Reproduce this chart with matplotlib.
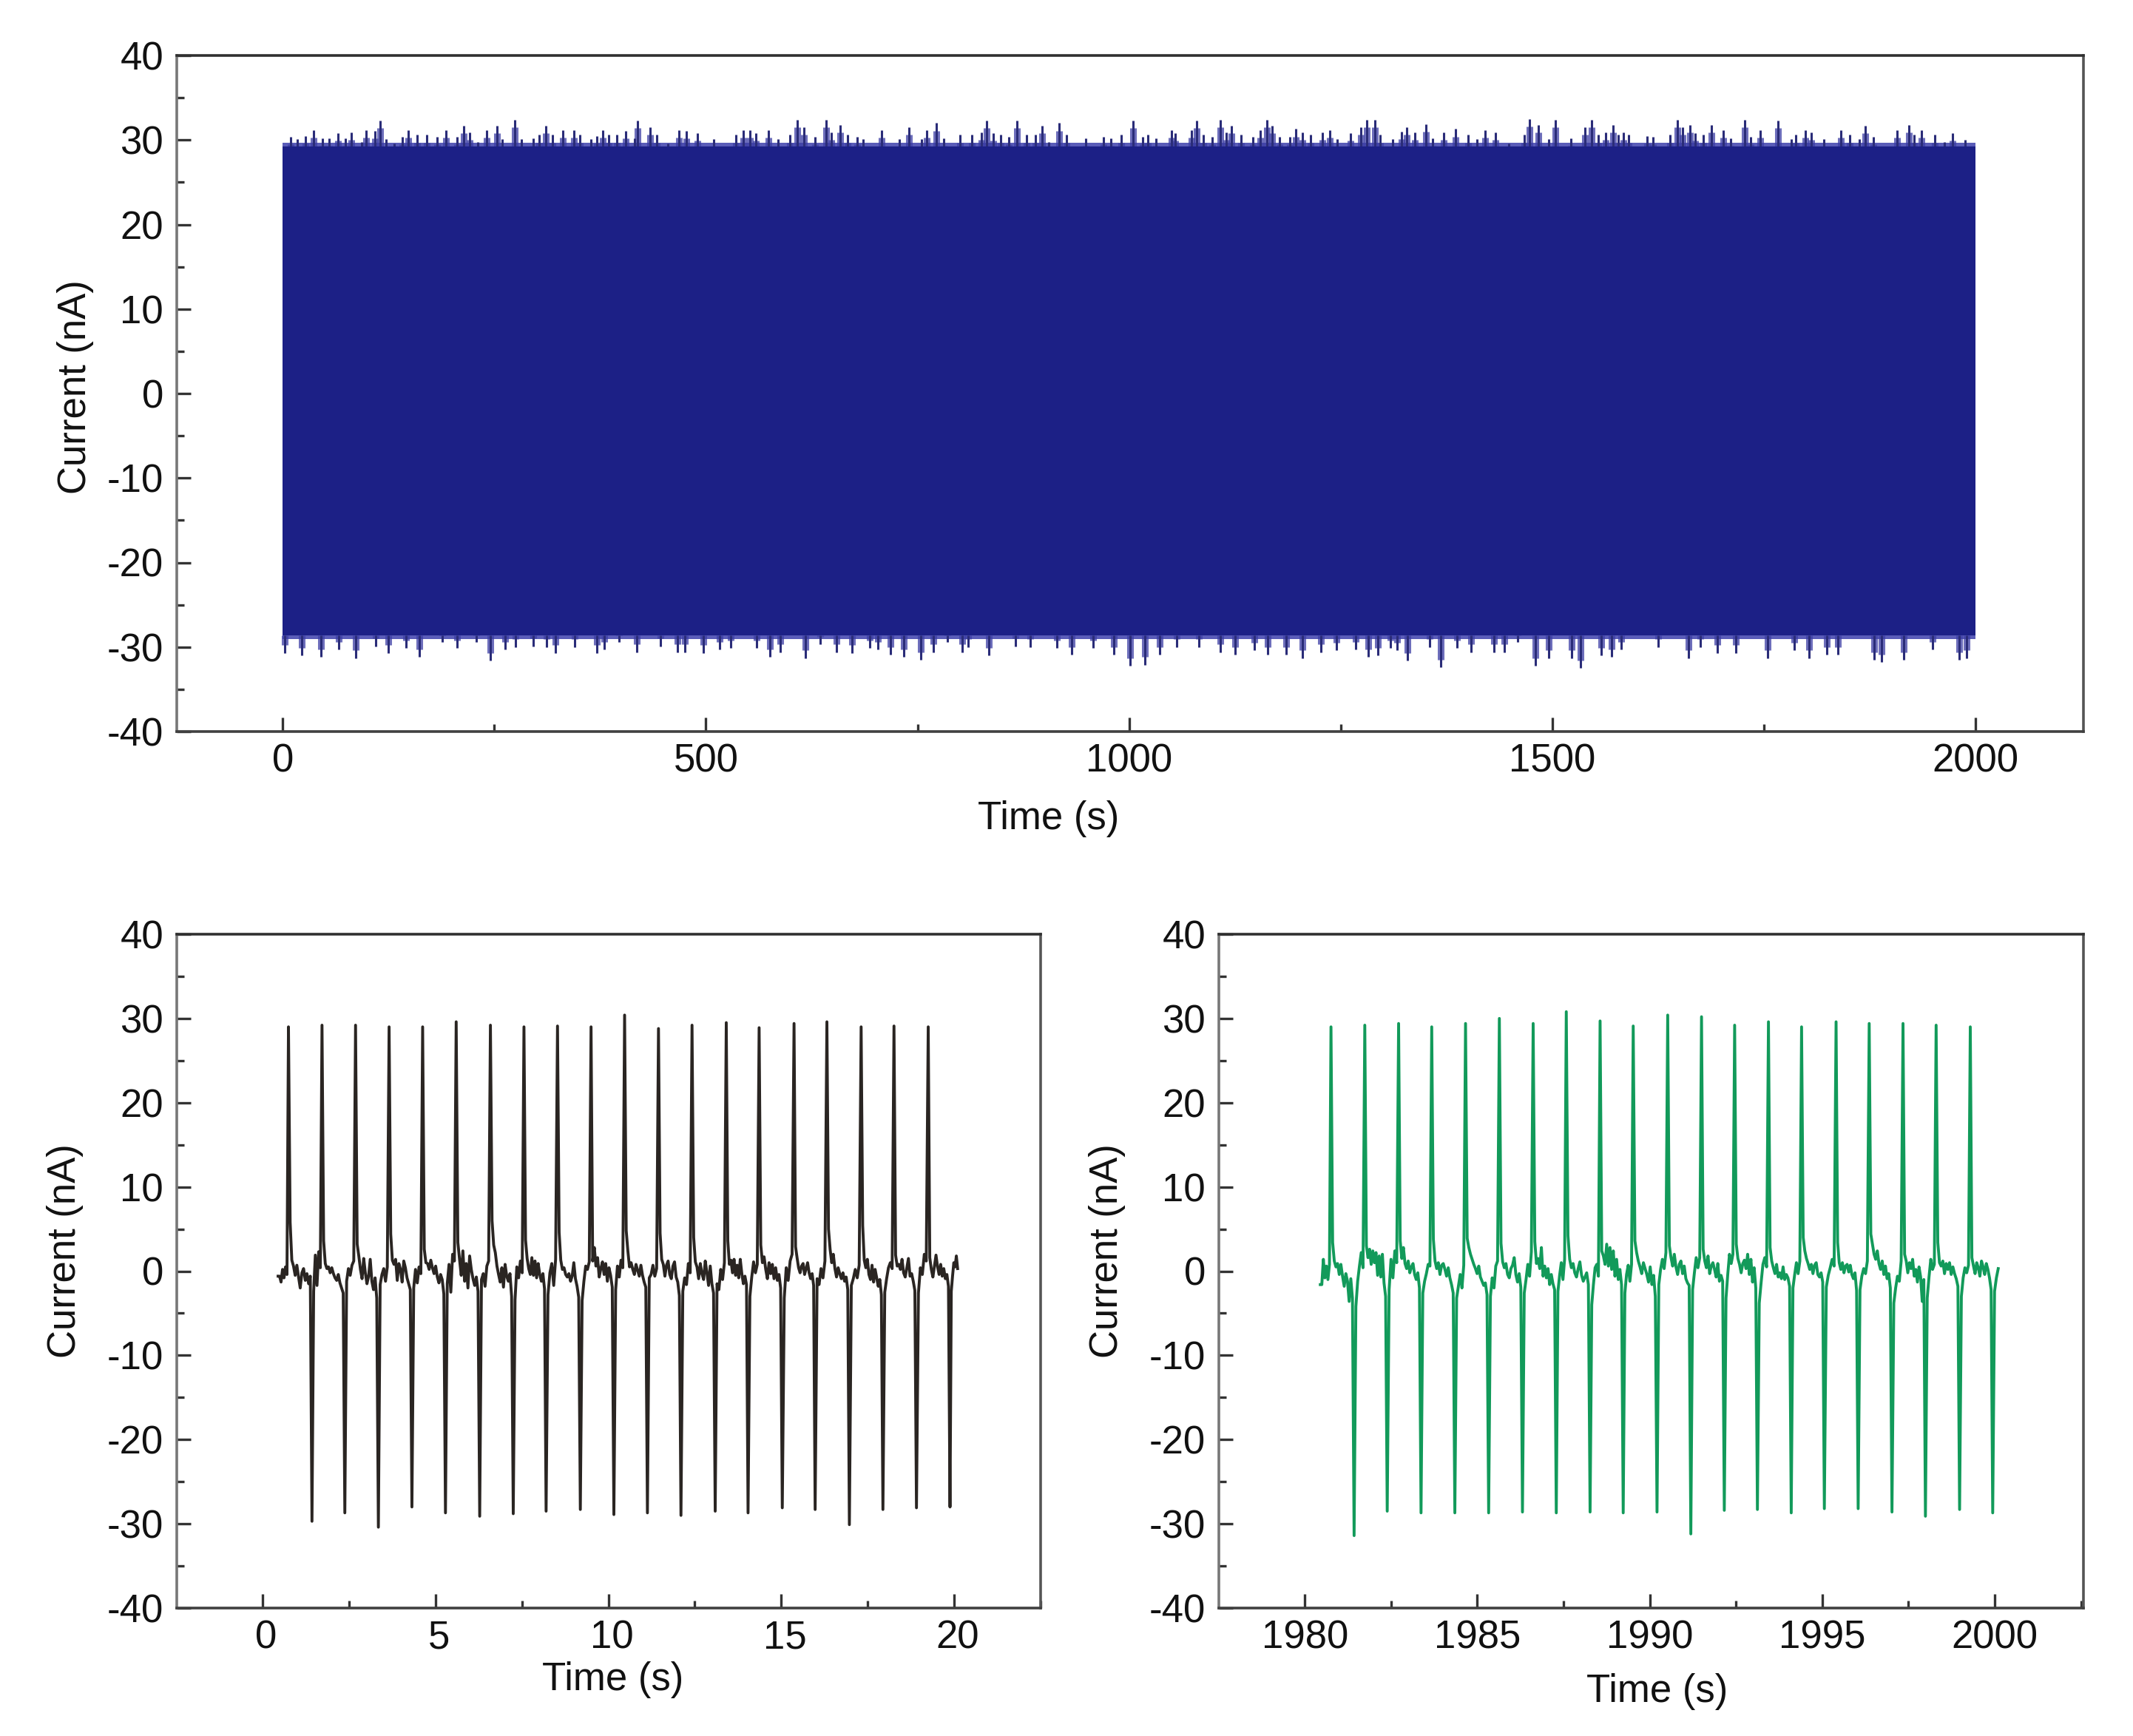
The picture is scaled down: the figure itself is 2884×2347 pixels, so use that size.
import numpy as np
from matplotlib import pyplot as plt
from matplotlib.ticker import AutoMinorLocator
from matplotlib.transforms import ScaledTranslation

plt.rcParams['font.family'] = ['Liberation Sans', 'DejaVu Sans']
plt.rcParams['axes.unicode_minus'] = False

# whole record: body of the band and the tips sticking out of it
band_t = [0, 2000]
band_hi = [29.2, 29.2]
band_lo = [-28.6, -28.6]
fuzz_hi = [29.7, 29.7]
fuzz_lo = [-29.1, -29.1]

tip_up_t = [9, 17, 27, 36, 47, 55, 65, 74, 81, 93, 98, 109, 115, 122, 132, 141, 148, 159, 170, 182,
            193, 206, 214, 221, 230, 241, 253, 259, 274, 282, 296, 303, 311, 319, 331, 344, 351, 364, 371, 378,
            385, 395, 405, 416, 419, 434, 442, 455, 468, 477, 490, 509, 535, 544, 552, 559, 574, 585, 599, 608,
            616, 629, 642, 648, 659, 667, 679, 686, 708, 729, 740, 755, 761, 772, 781, 800, 814, 826, 832, 840,
            848, 858, 868, 879, 889, 897, 905, 917, 926, 949, 970, 979, 991, 1005, 1016, 1022, 1032, 1050, 1055, 1074,
            1080, 1088, 1098, 1108, 1115, 1121, 1132, 1146, 1155, 1163, 1169, 1178, 1190, 1197, 1205, 1215, 1229, 1237, 1246, 1262,
            1274, 1281, 1291, 1297, 1312, 1322, 1328, 1338, 1351, 1359, 1372, 1386, 1401, 1411, 1421, 1433, 1449, 1467, 1473, 1484,
            1496, 1504, 1522, 1539, 1547, 1555, 1563, 1572, 1578, 1584, 1590, 1612, 1619, 1639, 1648, 1654, 1663, 1669, 1679, 1688,
            1702, 1711, 1728, 1735, 1746, 1767, 1783, 1788, 1799, 1806, 1821, 1841, 1852, 1863, 1870, 1880, 1908, 1922, 1928, 1937,
            1952, 1964, 1973, 1988]
tip_up_i = [30.4, 30.1, 30.5, 31.2, 30.2, 30.2, 30.8, 30.2, 30.9, 29.8, 31.2, 31.1, 32.3, 30.1, 29.6, 30.4, 31.2, 30.6, 30.6, 30.4,
            31.2, 30.4, 31.7, 30.9, 29.8, 31.2, 31.7, 30.1, 32.4, 30.1, 30.2, 30.6, 31.7, 30.6, 31.2, 31.2, 30.6, 30.1, 30.5, 31.2,
            30.6, 30.6, 31.1, 30.2, 32.3, 31.5, 30.6, 29.6, 31.2, 31.1, 30.8, 30.1, 30.6, 31.2, 31.2, 30.8, 31.2, 30.1, 30.6, 32.4,
            31.5, 30.4, 32.4, 30.9, 31.8, 30.6, 30.4, 30.1, 31.2, 30.1, 31.5, 30.1, 31.2, 32.0, 30.2, 30.6, 30.6, 30.9, 32.3, 30.8,
            30.6, 30.4, 32.3, 30.6, 30.6, 31.7, 29.8, 32.0, 30.6, 30.2, 30.4, 30.2, 30.6, 32.3, 30.4, 30.6, 30.2, 31.2, 30.8, 31.2,
            32.3, 30.6, 30.4, 32.4, 30.9, 31.7, 30.6, 30.4, 31.2, 32.4, 31.7, 30.4, 30.4, 31.3, 30.9, 30.6, 30.9, 31.2, 30.1, 30.8,
            31.5, 32.4, 32.4, 30.6, 30.1, 31.0, 31.5, 30.9, 31.9, 30.2, 30.9, 31.3, 30.6, 30.1, 31.2, 30.9, 29.6, 30.6, 32.5, 31.8,
            30.1, 32.4, 30.2, 31.5, 32.4, 30.6, 30.9, 31.8, 30.6, 30.9, 30.6, 30.5, 30.4, 30.6, 32.4, 31.5, 31.8, 30.8, 30.6, 31.8,
            31.2, 30.2, 32.4, 30.4, 31.2, 32.3, 30.1, 30.6, 31.2, 30.9, 30.1, 31.2, 30.6, 30.1, 31.7, 30.4, 31.2, 31.8, 30.6, 31.2,
            30.6, 29.8, 30.8, 30.0]
tip_dn_t = [2, 22, 45, 66, 86, 110, 125, 146, 161, 188, 206, 229, 245, 263, 275, 296, 312, 322, 345, 371,
            380, 397, 418, 446, 466, 475, 497, 516, 529, 560, 576, 588, 618, 635, 654, 673, 694, 703, 718, 734,
            754, 769, 785, 803, 810, 834, 866, 883, 915, 932, 958, 982, 1001, 1019, 1036, 1056, 1083, 1108, 1125, 1148,
            1164, 1186, 1205, 1227, 1245, 1268, 1283, 1294, 1309, 1317, 1329, 1355, 1368, 1388, 1404, 1431, 1444, 1459, 1480, 1496,
            1523, 1534, 1558, 1570, 1582, 1625, 1661, 1675, 1695, 1717, 1755, 1786, 1804, 1825, 1838, 1881, 1889, 1916, 1950, 1981, 1990]
tip_dn_i = [-30.7, -31.0, -31.2, -30.3, -31.3, -29.9, -30.7, -30.1, -31.2, -29.4, -30.1, -29.4, -31.6, -30.3, -30.0, -29.9, -30.0, -30.7, -30.0, -30.7,
            -30.3, -29.4, -30.6, -29.9, -30.6, -30.6, -30.7, -30.3, -30.1, -30.1, -31.2, -30.6, -31.3, -29.7, -30.6, -30.7, -30.1, -30.3, -30.9, -31.2,
            -31.5, -30.6, -29.4, -30.6, -30.0, -31.0, -29.9, -30.0, -30.1, -30.9, -30.1, -30.9, -32.2, -32.1, -30.9, -30.0, -30.0, -30.6, -30.9, -30.4,
            -30.9, -30.9, -31.3, -30.6, -30.4, -30.3, -31.2, -31.0, -30.1, -30.4, -31.6, -30.0, -32.4, -30.1, -30.6, -30.6, -30.6, -29.4, -32.2, -31.3,
            -31.3, -32.5, -31.0, -31.2, -30.3, -30.0, -31.3, -30.0, -30.7, -30.7, -31.3, -30.4, -31.3, -30.9, -30.9, -31.5, -31.8, -31.5, -30.3, -31.5, -31.3]

# panel b: 0 - 20 s
up_t_a = [0.75, 1.72, 2.69, 3.66, 4.63, 5.60, 6.59, 7.56, 8.53, 9.50,
          10.47, 11.45, 12.42, 13.41, 14.36, 15.37, 16.32, 17.31, 18.26, 19.25]
up_i_a = [29.0, 29.2, 29.2, 29.0, 29.0, 29.6, 29.2, 29.0, 29.1, 29.0,
          30.4, 28.8, 29.2, 29.5, 28.9, 29.4, 29.6, 29.0, 29.1, 29.0]
dn_t_a = [1.43, 2.38, 3.35, 4.32, 5.29, 6.28, 7.25, 8.20, 9.19, 10.16,
          11.13, 12.10, 13.09, 14.04, 15.03, 15.98, 16.97, 17.94, 18.91, 19.88]
dn_i_a = [-29.7, -28.7, -30.4, -28.0, -28.7, -29.1, -28.8, -28.5, -28.3, -28.9,
          -28.7, -29.0, -28.5, -28.7, -28.1, -28.3, -30.1, -28.3, -28.1, -28.0]
noise_a = [
    [-0.6, -1.3, 0.2, -0.8, 0.5, -0.4],
    [5.8, 1.3, 0.6, -0.5, 0.7, -0.7, -2.0, -0.2, 0.3, -1.1, -0.3, -1.5, -0.6],
    [-2.4, 1.9, -1.7, 2.3, 0.4],
    [3.6, 0.9, 0.3, 0.5, -0.2, 0.4, -0.3, -0.8, -1.1, -0.4, -1.4, -2.0, -2.6],
    [-1.2, 0.3, -0.5, 0.7, 1.2],
    [3.2, 1.8, 0.2, -0.9, 1.5, -0.2, -1.5, -0.6, 1.4, -1.2, -2.2, -0.8, -3.2],
    [-1.6, -0.4, 0.3, -1.2, 0.5],
    [4.4, 1.3, 0.8, 1.4, -1.1, 0.9, 0.2, -1.3, 1.2, 0.4, -0.8, -1.5, -2.2],
    [-2.0, 0.2, -1.4, 0.5, -0.3],
    [2.6, 1.0, 0.9, 0.2, 1.3, 0.4, -0.3, 0.6, -0.7, -1.4, -0.4, -1.0, -2.7],
    [-1.5, 0.8, -2.5, 2.0, 1.2],
    [3.4, 1.4, -0.5, 2.4, -1.2, 0.9, -2.0, 1.8, 0.2, -0.9, -1.7, -0.7, -2.4],
    [-1.0, -0.3, -1.8, 0.6, 1.2],
    [6.0, 3.1, 2.2, 0.6, -0.4, -1.3, 0.4, -1.9, 0.8, -0.6, -1.2, -0.3, -3.0],
    [-3.4, 0.5, -0.8, 1.2, -0.2],
    [3.7, 1.5, 0.3, -0.4, 1.6, -0.5, 1.2, -0.8, 0.9, -0.4, -1.2, -0.3, -2.1],
    [-2.8, -0.2, 0.9, -1.7, 1.4],
    [4.6, 1.3, 0.2, 0.4, -0.4, -0.7, -0.3, -1.2, -0.6, 1.0, -0.9, -1.8, -3.1],
    [-3.5, -1.2, 0.6, 0.2, 1.1],
    [1.2, 2.8, 0.6, 1.6, -0.7, 0.3, 1.1, -0.4, 0.9, -1.2, 0.4, -0.5, -1.9],
    [-2.2, 0.6, -0.7, 1.3, 0.4],
    [4.8, 2.4, 0.5, 1.0, 0.2, -0.4, 0.8, 0.1, -0.6, 0.7, -0.5, -1.3, -1.9],
    [-0.8, -0.4, 0.7, -0.6, 0.3],
    [4.5, 1.4, 0.8, -0.6, 0.7, 1.2, -0.4, -0.9, 0.6, 1.1, -0.7, -1.3, -2.9],
    [-2.4, -0.8, -1.6, 0.9, -0.2],
    [4.0, 1.1, 0.5, -0.9, 0.9, -0.3, -1.0, 1.2, -0.2, -1.7, 0.6, -1.5, -2.6],
    [-1.5, -2.2, 0.2, -1.0, 1.0],
    [3.6, 0.8, 1.3, -0.2, 1.4, -0.5, 0.7, -0.8, 1.4, -0.3, -1.5, -0.6, -1.6],
    [-3.0, -0.7, 1.1, -0.2, 0.8],
    [3.1, 1.0, 1.7, 0.2, -0.9, 1.0, -0.3, 0.8, -0.9, 0.4, -1.1, -0.4, -2.0],
    [-3.2, 0.4, -1.1, 1.2, 2.0],
    [2.9, 1.6, 0.4, -0.2, 0.6, 0.9, -0.4, 0.3, 1.0, -0.2, -0.9, -0.3, -1.7],
    [-0.9, -1.6, 0.3, -0.8, 1.2],
    [5.0, 2.6, 1.0, 2.0, 0.3, -0.7, 0.4, -0.3, -0.9, -0.2, -1.2, -0.7, -2.2],
    [-1.7, -0.9, 0.2, -0.8, 0.7],
    [5.4, 1.3, 0.4, 1.4, -0.4, -1.0, 0.7, -1.3, 0.2, -0.8, -1.8, -1.0, -2.8],
    [-2.5, -0.9, 0.4, 1.0, 0.3],
    [1.9, 0.6, 0.8, 0.2, 1.4, -0.2, -0.7, 0.4, 1.5, -0.6, -0.3, -1.2, -2.3],
    [-2.6, 0.4, -0.4, 2.0, 1.2],
    [1.6, 0.2, -0.7, 0.6, 1.9, 0.5, -0.4, 0.8, -0.6, 0.3, -0.9, -0.4, -1.8],
    [-2.4, -0.6, 1.0, 0.5, 1.8, 0.3],
]

# panel c: 1980 - 2000 s
up_t_b = [1980.76, 1981.74, 1982.72, 1983.68, 1984.66, 1985.64, 1986.62, 1987.58, 1988.56, 1989.52,
          1990.52, 1991.50, 1992.46, 1993.44, 1994.40, 1995.40, 1996.36, 1997.34, 1998.30, 1999.29]
up_i_b = [29.0, 29.2, 29.4, 29.0, 29.4, 30.0, 29.4, 30.8, 29.7, 29.1,
          30.4, 30.2, 29.2, 29.6, 29.0, 29.6, 29.4, 29.4, 29.2, 29.0]
dn_t_b = [1981.43, 1982.39, 1983.37, 1984.35, 1985.33, 1986.31, 1987.29, 1988.27, 1989.23, 1990.21,
          1991.19, 1992.16, 1993.12, 1994.10, 1995.06, 1996.04, 1997.02, 1997.99, 1998.98, 1999.94]
dn_i_b = [-31.4, -28.5, -28.7, -28.7, -28.7, -28.6, -28.7, -28.6, -28.7, -28.6,
          -31.2, -28.4, -28.3, -28.7, -28.2, -28.2, -28.6, -29.1, -28.3, -28.7]
noise_b = [
    [-1.6, 1.4, -0.8, 0.6, -1.0, 0.8],
    [3.4, 1.2, 0.5, 0.9, -0.4, 0.8, -0.6, -1.8, -0.3, -1.2, -3.6, -0.9, -3.2],
    [-4.2, -1.2, 0.6, 2.2, 0.4],
    [3.0, 1.6, 2.6, 0.8, 2.4, 1.0, 2.2, -0.5, 1.8, -0.7, 2.0, -1.4, -3.0],
    [-2.2, 1.4, -0.8, 2.4, 1.0],
    [3.6, 1.5, 2.8, 0.9, 0.3, 1.2, -0.2, 0.5, 0.9, -0.4, -1.0, -0.2, -2.0],
    [-2.6, -1.2, -0.3, 0.8, 0.6],
    [3.8, 1.2, 0.3, 1.0, -0.4, 0.7, 0.9, 0.2, -0.6, 0.4, -0.8, -1.6, -2.6],
    [-3.2, -1.8, -0.4, -2.0, 0.7],
    [3.9, 2.8, 2.0, 1.4, 0.8, 0.3, -0.3, 0.6, -0.7, -1.2, -1.7, -1.4, -2.8],
    [-3.0, -0.8, -2.0, 0.6, 1.2],
    [3.3, 1.1, 0.4, 0.9, -0.4, -0.8, 0.3, 0.7, 1.6, -0.4, -1.3, -0.3, -1.9],
    [-2.6, -1.0, 0.8, -0.6, 2.3],
    [3.5, 0.9, 1.5, 0.3, 2.8, -0.6, 0.6, -0.8, 0.3, -1.6, -0.4, -1.5, -2.2],
    [-2.4, -0.5, 1.0, -1.0, 1.4],
    [4.2, 1.4, 0.4, 0.9, -0.2, -0.7, 0.3, 1.1, -0.5, -1.2, -0.7, -0.2, -1.6],
    [-4.0, -1.6, 0.4, 0.8, -0.6],
    [2.4, 1.8, 0.8, 3.2, 0.6, 2.8, 0.2, 2.4, -0.6, 1.4, -1.0, 0.2, -1.6],
    [-2.6, -0.4, 0.7, -1.2, 0.8],
    [3.6, 2.2, 1.2, 0.5, -0.3, 1.0, 0.3, -0.4, -1.3, 0.5, -1.6, -0.5, -3.0],
    [-1.6, 0.2, 1.4, 0.3, 2.2],
    [3.0, 1.6, 0.6, 2.0, 0.5, -0.4, 0.8, 1.2, -0.3, 0.6, -0.9, -1.4, -1.7],
    [-2.2, -0.2, 1.6, 0.4, 1.6],
    [2.6, 1.2, 0.4, 1.8, -0.3, 0.6, 1.0, 0.2, -0.7, 0.9, -1.2, -0.5, -1.2],
    [-3.2, -0.4, 2.0, 0.9, 2.0],
    [3.2, 1.5, 0.8, -0.2, 0.9, 1.3, 0.3, 2.0, -0.4, 1.4, -1.3, 0.4, -2.0],
    [-3.8, -1.4, 0.8, 1.6, 0.5],
    [2.8, 1.2, 0.4, -0.3, 0.8, -0.7, -0.2, -0.9, 0.5, -1.0, -0.4, -0.8, -1.8],
    [-2.0, -0.4, 1.0, -0.3, 1.2],
    [4.0, 2.4, 1.5, 0.9, 0.2, 0.8, -0.3, 0.7, 1.0, -0.4, -0.7, -0.2, -1.3],
    [-1.9, -0.5, 0.4, 1.4, 0.6],
    [3.4, 1.0, 0.2, 1.0, -0.2, 0.6, 0.8, -0.1, 0.7, -0.4, -0.9, -0.2, -2.3],
    [-2.2, -0.6, 0.3, -0.3, 1.2],
    [4.4, 3.2, 2.0, 1.4, 2.4, 0.9, 0.2, 1.2, -0.4, 0.6, -0.9, -0.3, -2.0],
    [-3.8, -2.0, -0.6, -1.2, 1.2],
    [2.0, 1.2, -0.2, 1.0, 0.3, 1.4, -0.6, 0.2, -1.3, 0.5, -0.7, -3.6, -1.0],
    [-3.2, -0.7, 1.4, 0.2, 0.8],
    [3.4, 1.0, 0.6, 1.2, -0.3, 0.9, 0.2, 1.0, -0.4, 0.5, -0.3, -0.9, -1.8],
    [-3.0, -0.8, 0.4, -0.2, 0.7],
    [1.6, 0.6, -0.3, 1.0, 0.4, -0.6, 1.2, 0.5, -0.4, 0.9, 0.2, -0.8, -2.2],
    [-2.4, -0.8, 0.3],
]

time_ticks_all = [0, 500, 1000, 1500, 2000]
time_ticks_a = [0, 5, 10, 15, 20]
time_ticks_b = [1980, 1985, 1990, 1995, 2000]
current_ticks = [-40, -30, -20, -10, 0, 10, 20, 30, 40]


def build_trace(start, stop, up_t, up_i, dn_t, dn_i, noise):
    # spikes go up, down, up, down... the readings between them share each gap evenly
    spikes = []
    for k in range(len(up_t)):
        spikes.append((up_t[k], up_i[k]))
        spikes.append((dn_t[k], dn_i[k]))
    t = [start]
    y = [noise[0][0]]
    t0 = start
    for k, (st, si) in enumerate(spikes):
        seg = noise[k]
        t.extend(np.linspace(t0, st, len(seg) + 2)[1:-1].tolist())
        y.extend(seg)
        t.append(st)
        y.append(si)
        t0 = st
    seg = noise[len(spikes)]
    t.extend(np.linspace(t0, stop, len(seg) + 1)[1:].tolist())
    y.extend(seg)
    return t, y


def style_axes(ax, ticks, xlim, xlab_pos, ylab_pos):
    ax.set_xlim(xlim)
    ax.set_ylim(-40, 40)
    ax.set_xticks(ticks)
    ax.set_yticks(current_ticks)
    ax.xaxis.set_minor_locator(AutoMinorLocator(2))
    ax.yaxis.set_minor_locator(AutoMinorLocator(2))
    ax.tick_params(which='major', direction='in', length=14, width=2.4, color='#333333',
                   labelsize=38, labelcolor='#111111', pad=13)
    ax.tick_params(axis='x', which='major', pad=11)
    ax.tick_params(which='minor', direction='in', length=7, width=2.4, color='#333333')
    ax.set_xlabel('Time (s)', fontsize=38, color='#111111', va='center')
    ax.set_ylabel('Current (nA)', fontsize=38, color='#111111', va='center')
    ax.xaxis.set_label_coords(*xlab_pos)
    ax.yaxis.set_label_coords(*ylab_pos)
    for side, col in zip(['top', 'bottom', 'left', 'right'], ['#303030', '#404040', '#777777', '#555555']):
        ax.spines[side].set_linewidth(2.6)
        ax.spines[side].set_color(col)


W, H = 2884, 2347
fig = plt.figure(figsize=(W / 100, H / 100), dpi=100, facecolor='white')


def add_axes(left, right, top, bottom):
    return fig.add_axes([left / W, 1 - bottom / H, (right - left) / W, (bottom - top) / H])


ax_all = add_axes(239, 2817, 75, 989)
ax_a = add_axes(239, 1407, 1263, 2174)
ax_b = add_axes(1648, 2817, 1263, 2174)

navy = '#1c2086'
ax_all.fill_between(band_t, band_lo, band_hi, color=navy, lw=0, zorder=4)
ax_all.fill_between(band_t, fuzz_lo, fuzz_hi, color='#5a5cb8', lw=0, zorder=1)
ax_all.vlines(tip_up_t, band_hi[0], tip_up_i, color='#2a2c78', lw=2.2, zorder=3)
ax_all.vlines(tip_dn_t, band_lo[0], tip_dn_i, color='#2a2c78', lw=2.2, zorder=3)
ax_all.vlines(tip_up_t, band_hi[0], np.array(tip_up_i) - 0.9, color='#3c3ea4', lw=6.5, alpha=0.75, zorder=2)
ax_all.vlines(tip_dn_t, band_lo[0], np.array(tip_dn_i) + 0.9, color='#3c3ea4', lw=6.5, alpha=0.75, zorder=2)
style_axes(ax_all, time_ticks_all, (-125.4, 2128), (0.457, -0.129), (-0.053, 0.51))

t_a, y_a = build_trace(0.45, 20.1, up_t_a, up_i_a, dn_t_a, dn_i_a, noise_a)
ax_a.plot(t_a, y_a, color='#2a2522', lw=2.8)
style_axes(ax_a, time_ticks_a, (-2.48, 22.5), (0.505, -0.106), (-0.129, 0.53))
for lab in ax_a.get_xticklabels():
    lab.set_transform(lab.get_transform() + ScaledTranslation(0.05, 0, fig.dpi_scale_trans))

t_b, y_b = build_trace(1980.45, 2000.1, up_t_b, up_i_b, dn_t_b, dn_i_b, noise_b)
ax_b.plot(t_b, y_b, color='#129a5a', lw=2.8)
style_axes(ax_b, time_ticks_b, (1977.51, 2002.57), (0.507, -0.124), (-0.129, 0.53))

fig.savefig('out.png', dpi=100)
